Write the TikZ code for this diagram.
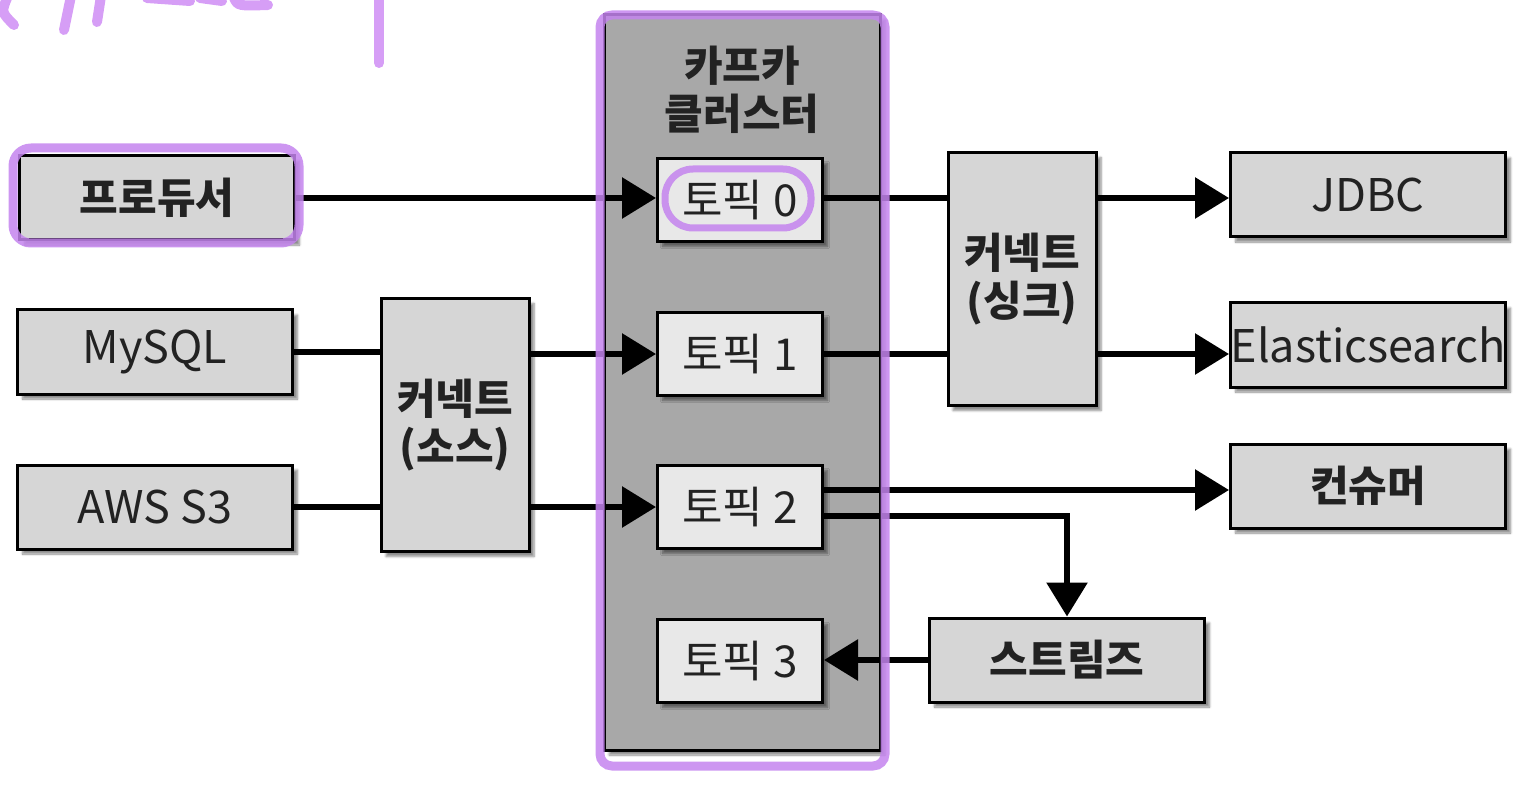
\documentclass[tikz,border=0pt]{standalone}
\usepackage{fontspec}
\setmainfont{Noto Sans CJK KR}
\usetikzlibrary{arrows.meta,shadows.blur,calc}
\definecolor{boxgray}{RGB}{214,214,214}
\definecolor{topicgray}{RGB}{232,232,232}
\definecolor{clustergray}{RGB}{168,168,168}
\definecolor{textc}{RGB}{34,34,34}
\definecolor{hlpurple}{RGB}{196,132,238}
\definecolor{hwpurple}{RGB}{214,158,246}
\begin{document}
\begin{tikzpicture}[x=1pt,y=-1pt,
  shad/.style={blur shadow={shadow xshift=5pt,shadow yshift=-5pt,shadow blur steps=6,shadow opacity=45}},
  box/.style={draw=black,line width=3pt,fill=boxgray,inner sep=0pt,minimum width=275pt,minimum height=84pt,
    font=\fontsize{42}{48}\selectfont,text=textc,shad},
  latin/.style={font=\fontsize{45}{50}\selectfont},
  tall/.style={box,minimum width=148pt,minimum height=253pt,align=center},
  topic/.style={box,fill=topicgray,minimum width=165pt,minimum height=83pt,font=\fontsize{44}{50}\selectfont},
  cluster/.style={draw=black,line width=3pt,fill=clustergray,minimum width=276pt,minimum height=735pt,inner sep=0pt,shad},
  ln/.style={line width=6pt,draw=black},
  arr/.style={ln,-{Triangle[length=34pt,width=40pt]}},
  hl/.style={draw=hlpurple,line width=9pt,opacity=0.85,rounded corners=18pt},
  hw/.style={draw=hwpurple,line width=10pt,line cap=round}]
\useasboundingbox (0,0) rectangle (1534,794);
\clip (0,0) rectangle (1534,794);

% handwriting marks
\draw[hw] (8,-4) .. controls (1,12) .. (14,25);
\draw[hw] (71,-4) -- (64,30);
\draw[hw] (101,-4) -- (97,22);
\draw[hw] (147,-2) -- (190,1);
\draw[hw] (200,-2) -- (222,1);
\draw[hw] (234,-2) .. controls (238,6) .. (268,5);
\draw[hw] (379,-4) -- (379,63);

% cluster
\node[cluster] (kc) at (742,382.5) {};
\node[font=\fontsize{42}{48}\selectfont\bfseries,text=textc,align=center] (kct) at (742,90) {카프카\\클러스터};

% boxes
\node[box] (prod) at (157,198) {\bfseries 프로듀서};
\node[box,latin] (mysql) at (155,352) {MySQL};
\node[box,latin] (aws) at (155,507) {AWS S3};
\node[tall] (src) at (455,425) {\bfseries 커넥트\\\bfseries (소스)};
\node[topic] (t0) at (740,200) {토픽 0};
\node[topic] (t1) at (740,354) {토픽 1};
\node[topic] (t2) at (740,507) {토픽 2};
\node[topic] (t3) at (740,661) {토픽 3};
\node[tall] (sink) at (1022,279) {\bfseries 커넥트\\\bfseries (싱크)};
\node[box,latin] (jdbc) at (1368,195) {JDBC};
\node[box,latin] (es) at (1368,345) {Elasticsearch};
\node[box] (cons) at (1368,486) {\bfseries 컨슈머};
\node[box] (streams) at (1067,660) {\bfseries 스트림즈};

% connectors
\draw[arr] (prod.east) -- (prod.east -| t0.west);
\draw[ln] (mysql.east) -- (mysql.east -| src.west);
\draw[ln] (aws.east) -- (aws.east -| src.west);
\draw[arr] (src.east |- t1.west) -- (t1.west);
\draw[arr] (src.east |- t2.west) -- (t2.west);
\draw[ln] (t0.east |- prod.east) -- (prod.east -| sink.west);
\draw[ln] (t1.east) -- (t1.east -| sink.west);
\draw[arr] (sink.east |- prod.east) -- (prod.east -| jdbc.west);
\draw[arr] (sink.east |- t1.east) -- (t1.east -| es.west);
\coordinate (t2a) at ([yshift=17pt]t2.east);
\coordinate (t2b) at ([yshift=-9pt]t2.east);
\draw[arr] (t2a) -- (t2a -| cons.west);
\draw[arr] (t2b) -| (streams.north);
\draw[arr] (streams.west) -- (streams.west -| t3.east);

% highlights
\draw[hl] (13,148) rectangle (299,243);
\draw[hl,rounded corners=12pt] (600,15) rectangle (885,766);
\draw[hl,line width=7pt,rounded corners=28pt] (665,169) rectangle (811,228);
\end{tikzpicture}
\end{document}
